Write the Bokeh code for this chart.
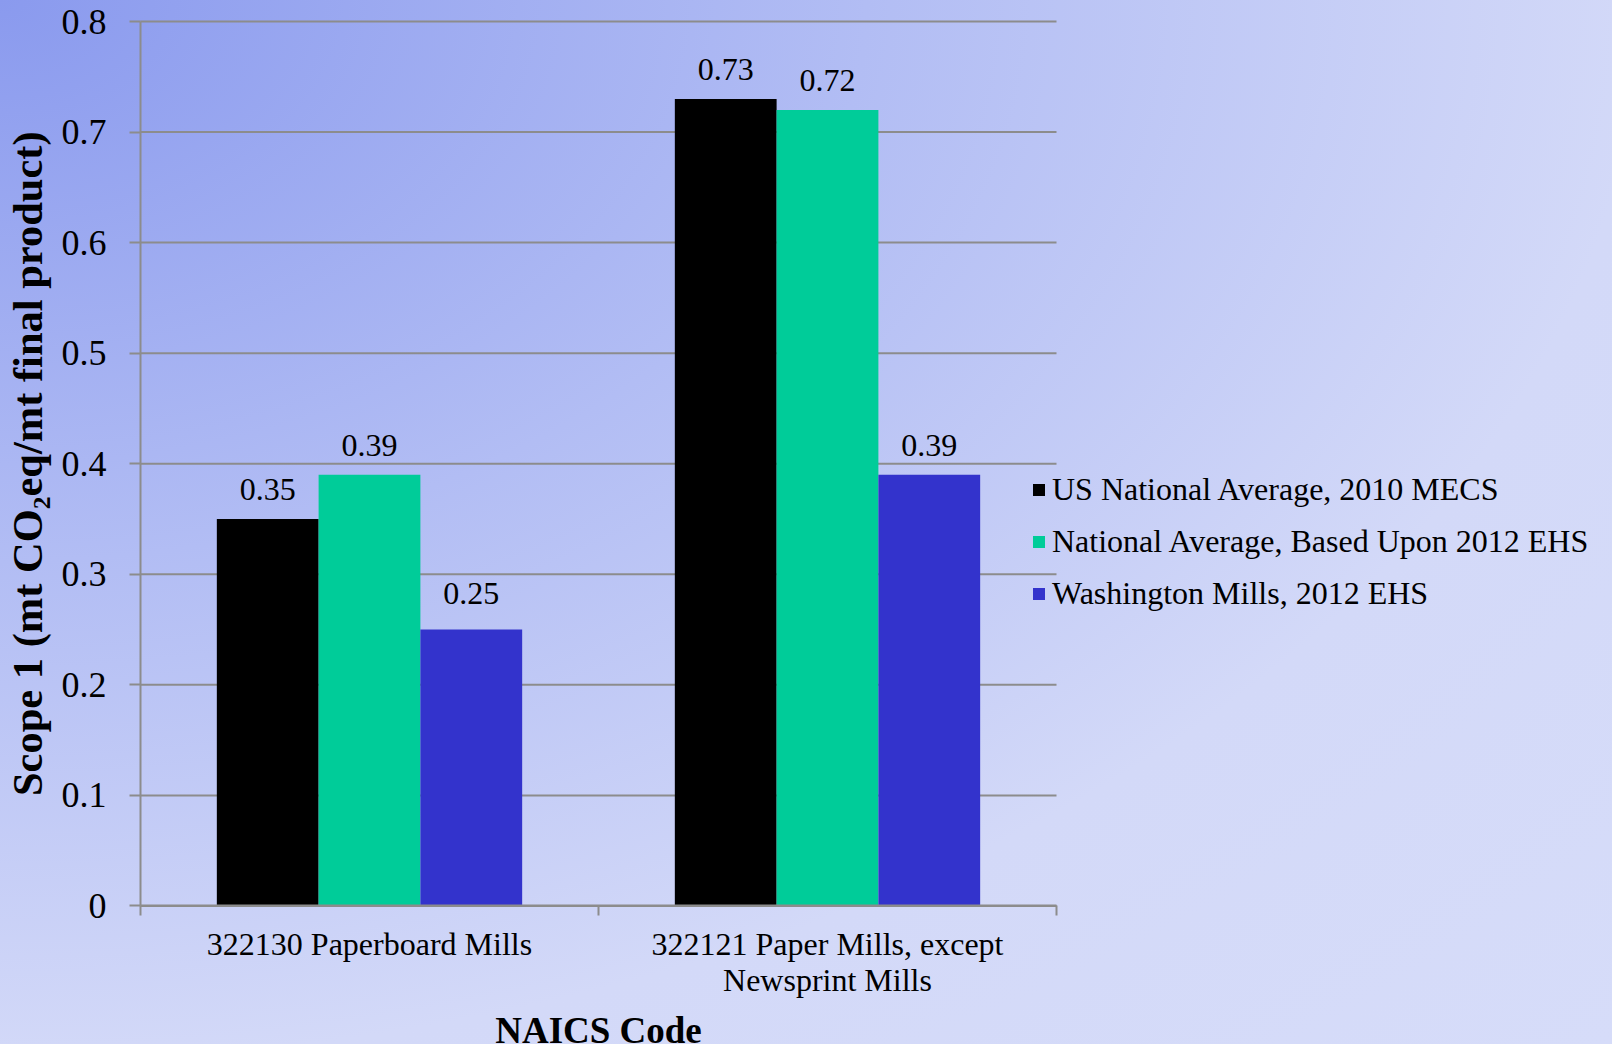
from bokeh.plotting import figure
from bokeh.models import (Range1d, FixedTicker, ColumnDataSource, Legend, LegendItem,
                          LabelSet, Label)
from bokeh.embed import file_html
from bokeh.resources import INLINE

# ---- data -------------------------------------------------------------
categories = ["322130 Paperboard Mills", "322121 Paper Mills, except\nNewsprint Mills"]
series_names = [
    "US National Average, 2010 MECS",
    "National Average, Based Upon 2012 EHS",
    "Washington Mills, 2012 EHS",
]
us_mecs_2010 = [0.35, 0.73]
national_ehs_2012 = [0.39, 0.72]
washington_ehs_2012 = [0.25, 0.39]
y_ticks = [0, 0.1, 0.2, 0.3, 0.4, 0.5, 0.6, 0.7, 0.8]
y_tick_labels = ["0", "0.1", "0.2", "0.3", "0.4", "0.5", "0.6", "0.7", "0.8"]
y_title = "Scope 1 (mt CO\u2082eq/mt final product)"
x_title = "NAICS Code"
page_number = "8"

# ---- layout / styling ---------------------------------------------------
W, H = 1612, 1044
LEFT, TOP = 140, 21           # top-left corner of the plotting area
CAT_PX = 458                  # pixels per category
VAL_PX = 110.56               # pixels per 0.1 of the value axis
series_colors = ["#000000", "#00CC99", "#3333CC"]
# extra lift (px) of individual value labels, per series
label_lift = [[0, 0], [0, 0], [7, 0]]
FONT = "Liberation Serif"
GRID = "#8C8C8C"
bar_w = 1 / 4.5               # three bars plus a 150% gap per category
offsets = [-bar_w, 0.0, bar_w]

n_cat = len(categories)
y_top = y_ticks[-1]
zero_px = TOP + y_top / 0.1 * VAL_PX          # pixel row of value 0
# the frame spans the whole canvas; axes sit at x=0 / y=0 inside it
x_range = Range1d(-LEFT / CAT_PX, (W - LEFT) / CAT_PX)
y_range = Range1d(-(H - zero_px) / VAL_PX * 0.1, zero_px / VAL_PX * 0.1)

p = figure(width=W, height=H, output_backend="svg", toolbar_location=None,
           x_range=x_range, y_range=y_range,
           min_border_left=0, min_border_right=0, min_border_top=0,
           min_border_bottom=0)
p.background_fill_alpha = 0
p.border_fill_alpha = 0
p.outline_line_color = None
p.styles = {
    "background-image": "radial-gradient(ellipse farthest-corner at 0% 0%, "
                        "#8A9AEE 0%, #B2BDF4 38%, #D3D9F8 72%, #D6DCF9 100%)"
}

# ---- horizontal gridlines across the category area -----------------------
p.xgrid.visible = False
p.ygrid.visible = False
p.segment(x0=0, x1=n_cat, y0=y_ticks, y1=y_ticks, line_color=GRID, line_width=2)

# ---- bars -------------------------------------------------------------
series_values = [us_mecs_2010, national_ehs_2012, washington_ehs_2012]
legend_items = []
for name, vals, color, off, lift in zip(series_names, series_values, series_colors,
                                        offsets, label_lift):
    xs = [i + 0.5 + off for i in range(n_cat)]
    src = ColumnDataSource(dict(x=xs, top=vals, label=[f"{v:.2f}" for v in vals],
                                dy=[19 + d for d in lift]))
    r = p.vbar(x="x", top="top", bottom=0, width=bar_w, source=src,
               fill_color=color, line_color=None)
    legend_items.append(LegendItem(label=name, renderers=[r]))
    p.add_layout(LabelSet(x="x", y="top", text="label", source=src,
                          text_align="center", text_baseline="alphabetic",
                          y_offset="dy", text_font=FONT, text_font_size="32px",
                          text_color="#000000"))

# ---- y axis at x=0 ------------------------------------------------------
ya = p.yaxis[0]
ya.fixed_location = 0
ya.bounds = (0, y_top)
ya.ticker = FixedTicker(ticks=y_ticks)
ya.major_label_overrides = dict(zip(y_ticks, y_tick_labels))
ya.axis_line_color = GRID
ya.axis_line_width = 2
ya.major_tick_line_color = GRID
ya.major_tick_line_width = 2
ya.major_tick_out = 11
ya.major_tick_in = 0
ya.minor_tick_line_color = None
ya.major_label_standoff = 23
ya.major_label_text_font = FONT
ya.major_label_text_font_size = "36px"
ya.major_label_text_color = "#000000"

# rotated value-axis title, centred on the value span
p.add_layout(Label(x=27, x_units="screen", y=y_top / 2, y_units="data",
                   text=y_title, angle=90, angle_units="deg",
                   text_align="center", text_baseline="alphabetic",
                   text_font=FONT, text_font_style="bold", text_font_size="42.5px",
                   text_color="#000000"))

# ---- x axis at y=0: labels at category centres, ticks at edges ----------
xa = p.xaxis[0]
xa.fixed_location = 0
xa.bounds = (0, n_cat)
xa.ticker = FixedTicker(ticks=[i + 0.5 for i in range(n_cat)],
                        minor_ticks=list(range(n_cat + 1)))
xa.major_label_overrides = {i + 0.5: c for i, c in enumerate(categories)}
xa.axis_line_color = GRID
xa.axis_line_width = 2
xa.major_tick_line_color = None
xa.major_tick_out = 0
xa.major_tick_in = 0
xa.minor_tick_line_color = GRID
xa.minor_tick_line_width = 2
xa.minor_tick_out = 10
xa.minor_tick_in = 0
xa.major_label_standoff = 10
xa.major_label_text_font = FONT
xa.major_label_text_font_size = "32px"
xa.major_label_text_line_height = 1.0
xa.major_label_text_color = "#000000"
xa.axis_label = x_title
xa.axis_label_text_font = FONT
xa.axis_label_text_font_style = "bold"
xa.axis_label_text_font_size = "37px"
xa.axis_label_text_color = "#000000"
xa.axis_label_standoff = 9

# ---- legend -----------------------------------------------------------
legend = Legend(items=legend_items, location=(1031, 432), orientation="vertical",
                glyph_width=15, glyph_height=15, label_standoff=6,
                label_height=37, spacing=15, padding=0, margin=0,
                label_text_font=FONT, label_text_font_size="32px",
                label_text_color="#000000", border_line_color=None,
                background_fill_alpha=0)
p.add_layout(legend)

# slide page number at the lower edge
p.add_layout(Label(x=1535, y=-15, x_units="screen", y_units="screen", text=page_number,
                   text_font=FONT, text_font_size="32px", text_align="center",
                   text_baseline="alphabetic", text_color="#000000"))

open("out.html", "w").write(file_html(p, INLINE))
